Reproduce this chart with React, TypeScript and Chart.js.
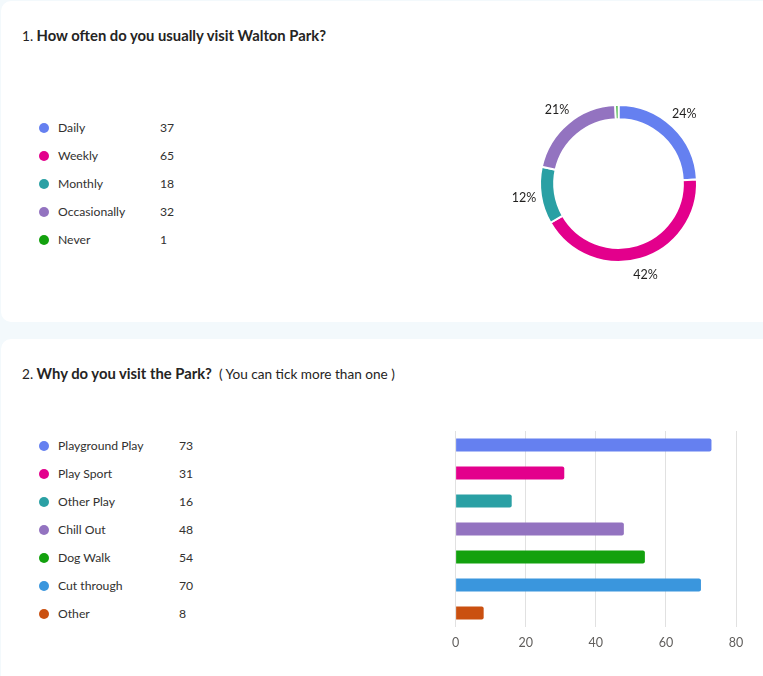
import { useEffect, useRef } from 'react';
import { Chart, registerables } from 'chart.js';

Chart.register(...registerables);

// Q1 - how often
const freqLabels = ['Daily', 'Weekly', 'Monthly', 'Occasionally', 'Never'];
const freqCounts = [37, 65, 18, 32, 1];
const freqColors = ['#6580f0', '#e3008c', '#2aa0a4', '#9373c0', '#13a10e'];

// Q2 - why visit
const reasonLabels = ['Playground Play', 'Play Sport', 'Other Play', 'Chill Out', 'Dog Walk', 'Cut through', 'Other'];
const reasonCounts = [73, 31, 16, 48, 54, 70, 8];
const reasonColors = ['#6580f0', '#e3008c', '#2aa0a4', '#9373c0', '#13a10e', '#3a96dd', '#ca5010'];

const axisMax = 80;
const axisStep = 20;

const FONT = '"Segoe UI", Lato, "Noto Sans", sans-serif';

// draws the % labels just outside each ring slice
const outerLabels = {
  id: 'outerLabels',
  afterDatasetsDraw(chart: any) {
    const ctx = chart.ctx;
    const meta = chart.getDatasetMeta(0);
    const values: number[] = chart.data.datasets[0].data;
    const total = values.reduce((a, b) => a + b, 0);
    ctx.save();
    ctx.font = `12.5px ${FONT}`;
    ctx.fillStyle = '#201f1e';
    ctx.textAlign = 'center';
    ctx.textBaseline = 'middle';
    meta.data.forEach((arc: any, i: number) => {
      const pct = (values[i] / total) * 100;
      if (pct < 2) return;
      const mid = (arc.startAngle + arc.endAngle) / 2;
      const r = arc.outerRadius + 17;
      ctx.fillText(Math.round(pct) + '%', arc.x + Math.cos(mid) * r, arc.y + Math.sin(mid) * r);
    });
    ctx.restore();
  },
};

function Legend({ labels, counts, colors, top, countX }: { labels: string[]; counts: number[]; colors: string[]; top: number; countX: number }) {
  return (
    <div style={{ position: 'absolute', left: 39, top }}>
      {labels.map((l, i) => (
        <div key={l} style={{ position: 'relative', height: 28, lineHeight: '28px', fontSize: 12.2, color: '#323130' }}>
          <span style={{ position: 'absolute', left: 0, top: 9, width: 10, height: 10, borderRadius: 5, background: colors[i] }} />
          <span style={{ position: 'absolute', left: 19, whiteSpace: 'nowrap' }}>{l}</span>
          <span style={{ position: 'absolute', left: countX - 39 }}>{counts[i]}</span>
        </div>
      ))}
    </div>
  );
}

function DonutChart() {
  const ref = useRef<HTMLCanvasElement>(null);
  useEffect(() => {
    if (!ref.current) return;
    const chart = new Chart(ref.current, {
      type: 'doughnut',
      data: {
        labels: freqLabels,
        datasets: [{ data: freqCounts, backgroundColor: freqColors, borderColor: '#ffffff', borderWidth: 2 }],
      },
      options: {
        animation: false,
        responsive: true,
        maintainAspectRatio: false,
        cutout: '82%',
        layout: { padding: 41 },
        plugins: { legend: { display: false }, tooltip: { enabled: false } },
      },
      plugins: [outerLabels],
    });
    return () => chart.destroy();
  }, []);
  return (
    <div style={{ position: 'absolute', left: 498, top: 63, width: 241, height: 241 }}>
      <canvas ref={ref}></canvas>
    </div>
  );
}

function BarChart() {
  const ref = useRef<HTMLCanvasElement>(null);
  useEffect(() => {
    if (!ref.current) return;
    const chart = new Chart(ref.current, {
      type: 'bar',
      data: {
        labels: reasonLabels,
        datasets: [{ data: reasonCounts, backgroundColor: reasonColors, borderRadius: 2, barPercentage: 0.93, categoryPercentage: 0.5 }],
      },
      options: {
        animation: false,
        responsive: true,
        maintainAspectRatio: false,
        indexAxis: 'y',
        layout: { padding: { left: 10, right: 20, top: 10, bottom: 10 } },
        plugins: { legend: { display: false }, tooltip: { enabled: false } },
        scales: {
          x: {
            min: 0,
            max: axisMax,
            ticks: { stepSize: axisStep, color: '#605e5c', padding: 8, font: { size: 12.5, family: FONT } },
            grid: { color: '#e1e1e1', drawTicks: false },
            border: { display: false },
          },
          y: { display: false },
        },
      },
    });
    return () => chart.destroy();
  }, []);
  return (
    <div style={{ position: 'absolute', left: 444, top: 421, width: 312, height: 247 }}>
      <canvas ref={ref}></canvas>
    </div>
  );
}

export default function App() {
  const card = { position: 'absolute' as const, left: 1, width: 800, background: '#ffffff', borderRadius: 10 };
  const title = { position: 'absolute' as const, left: 22, fontSize: 13.6, color: '#252423', whiteSpace: 'nowrap' as const, lineHeight: '20px' };
  const bold = { fontSize: 14.8, fontWeight: 700 };
  return (
    <div style={{ position: 'absolute', left: 0, top: 0, width: 763, height: 676, overflow: 'hidden', background: '#f3f9fc', fontFamily: FONT }}>
      <div style={{ ...card, top: 1, height: 321 }} />
      <div style={{ ...card, top: 339, height: 400 }} />
      <div style={{ ...title, top: 25 }}>
        1. <span style={bold}>How often do you usually visit Walton Park?</span>
      </div>
      <div style={{ ...title, top: 363 }}>
        2. <span style={bold}>Why do you visit the Park?</span>&nbsp; ( You can tick more than one )
      </div>
      <Legend labels={freqLabels} counts={freqCounts} colors={freqColors} top={114} countX={160} />
      <Legend labels={reasonLabels} counts={reasonCounts} colors={reasonColors} top={432} countX={179} />
      <DonutChart />
      <BarChart />
    </div>
  );
}
